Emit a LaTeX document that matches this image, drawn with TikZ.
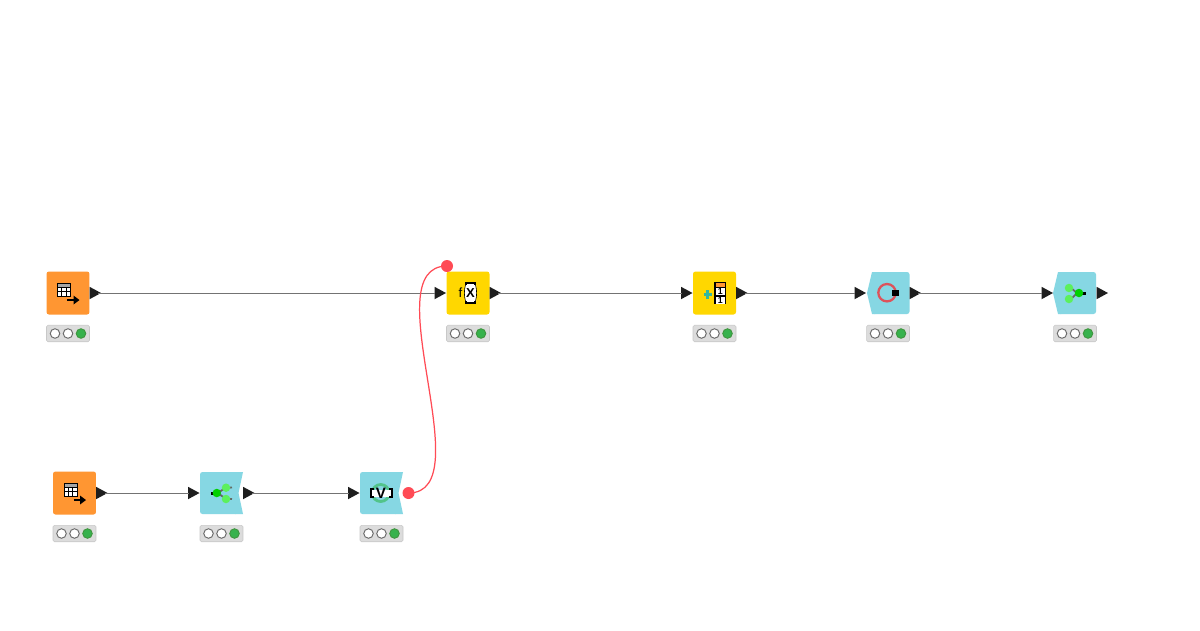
\documentclass[tikz,border=0pt]{standalone}
\usepackage{fontspec}
\setmainfont{Liberation Sans}
\usetikzlibrary{shapes.geometric}
\definecolor{kOrange}{HTML}{FF9632}
\definecolor{kYellow}{HTML}{FFD700}
\definecolor{kTeal}{HTML}{86D7E3}
\definecolor{kRed}{HTML}{FF4B55}
\definecolor{kGreen}{HTML}{37B24D}
\definecolor{kBar}{HTML}{DCDCDC}
\definecolor{kBarLine}{HTML}{C8C8C8}
\definecolor{kDark}{HTML}{1E1E1E}
\definecolor{kLime}{HTML}{5CF05C}
\definecolor{kLimeDark}{HTML}{00D000}
\definecolor{kLoopGreen}{HTML}{52C48A}
\definecolor{kPlus}{HTML}{35B8A0}
\tikzset{
  bodybox/.style={minimum width=.86cm,minimum height=.86cm,inner sep=0pt,outer sep=0pt,rounded corners=.05cm},
  bodymark/.style={minimum width=.86cm,minimum height=.86cm,inner sep=0pt,outer sep=0pt},
  porttri/.style={isosceles triangle,isosceles triangle stretches,fill=kDark,inner sep=0pt,outer sep=0pt,
    minimum width=.25cm,minimum height=.23cm,anchor=apex},
  barbox/.style={minimum width=.86cm,minimum height=.33cm,inner sep=0pt,fill=kBar,draw=kBarLine,line width=.3pt,rounded corners=.03cm},
  lampoff/.style={circle,inner sep=0pt,minimum size=.19cm,fill=white,draw=gray!85!black,line width=.55pt},
  lampon/.style={circle,inner sep=0pt,minimum size=.19cm,fill=kGreen,draw=green!45!black!75,line width=.55pt},
  wire/.style={draw=black!55,line width=.55pt,shorten <=-1.5pt,shorten >=-.5pt},
  varwire/.style={draw=kRed,line width=.7pt},
  varport/.style={circle,fill=kRed,inner sep=0pt,minimum size=.24cm},
  seed/.style={circle,fill=kLime,inner sep=0pt,minimum size=.17cm},
  seeddark/.style={circle,fill=kLimeDark,inner sep=0pt,minimum size=.17cm},
  stem/.style={draw=black!60,line width=1pt},
  glyph/.style={inner sep=0pt,text=black},
}
% status bar under a body
\newcommand{\kbar}[3]{%
  \node[barbox] (#1-bar) at (#2,#3+40.5) {};
  \node[lampoff] (#1-a) at (#2-13,#3+40.5) {};
  \node[lampoff] (#1-b) at (#2,#3+40.5) {};
  \node[lampon]  (#1-c) at (#2+13,#3+40.5) {};
}
\newcommand{\kin}[3]{\node[porttri] (#1-in) at (#2-22,#3) {};}
\newcommand{\kout}[3]{\node[porttri] (#1-out) at (#2+33,#3) {};}
% table-with-arrow icon
\newcommand{\kreader}[2]{%
  \begin{scope}[shift={(#1,#2)}]
    \fill[white] (-10.5,-10) rectangle (2.5,3);
    \fill[black!35] (-10.5,-10) rectangle (2.5,-6);
    \draw[black,line width=.5pt] (-10.5,-10) rectangle (2.5,3);
    \draw[black,line width=.4pt] (-10.5,-6) -- (2.5,-6) (-10.5,-1.5) -- (2.5,-1.5)
      (-6.2,-6) -- (-6.2,3) (-1.8,-6) -- (-1.8,3);
    \draw[black,line width=1.4pt] (-1,7) -- (7,7);
    \fill[black] (5.5,2.5) -- (11.5,7) -- (5.5,11.5) -- cycle;
  \end{scope}
}
\begin{document}
\begin{tikzpicture}[x=.02cm,y=-.02cm]
\useasboundingbox (0,0) rectangle (1200,630);
\fill[white] (0,0) rectangle (1200,630);

% --- bodies, top row
\node[bodybox,fill=kOrange] (tableA) at (68,293) {};
\node[bodybox,fill=kYellow] (mathf) at (468,293) {};
\node[bodybox,fill=kYellow] (counter) at (714.5,293) {};
% loop end (pointed left)
\fill[kTeal,rounded corners=.05cm] (872,272) -- (909.5,272) -- (909.5,314) -- (872,314) -- cycle;
\fill[kTeal] (875,272) -- (872,272) -- (867,293) -- (872,314) -- (875,314) -- cycle;
\node[bodymark] (loopend) at (888,293) {};
\fill[kTeal,rounded corners=.05cm] (1058,272) -- (1096,272) -- (1096,314) -- (1058,314) -- cycle;
\fill[kTeal] (1061,272) -- (1058,272) -- (1053,293) -- (1058,314) -- (1061,314) -- cycle;
\node[bodymark] (collect) at (1075,293) {};

% --- bodies, bottom row
\node[bodybox,fill=kOrange] (tableB) at (74.5,493) {};
\fill[kTeal,rounded corners=.05cm] (200,472) -- (238,472) -- (238,514) -- (200,514) -- cycle;
\fill[kTeal] (235,472) -- (243,472) -- (238.5,493) -- (243,514) -- (235,514) -- cycle;
\node[bodymark] (loopstart) at (221.5,493) {};
\fill[kTeal,rounded corners=.05cm] (360,472) -- (398,472) -- (398,514) -- (360,514) -- cycle;
\fill[kTeal] (395,472) -- (403,472) -- (398.5,493) -- (403,514) -- (395,514) -- cycle;
\node[bodymark] (varloop) at (381.5,493) {};

% --- ports
\kout{tableA}{68}{293}
\kin{mathf}{468}{293}\kout{mathf}{468}{293}
\kin{counter}{714.5}{293}\kout{counter}{714.5}{293}
\kin{loopend}{888}{293}\kout{loopend}{888}{293}
\kin{collect}{1075}{293}\kout{collect}{1075}{293}
\kout{tableB}{74.5}{493}
\kin{loopstart}{221.5}{493}\kout{loopstart}{221.5}{493}
\kin{varloop}{381.5}{493}
\node[varport] (varout) at (408.5,493) {};
\node[varport] (varin) at (447,266) {};

% --- status bars
\kbar{tableA}{68}{293}
\kbar{mathf}{468}{293}
\kbar{counter}{714.5}{293}
\kbar{loopend}{888}{293}
\kbar{collect}{1075}{293}
\kbar{tableB}{74.5}{493}
\kbar{loopstart}{221.5}{493}
\kbar{varloop}{381.5}{493}

% --- connectors
\draw[wire] (tableA-out.apex) -- (mathf-in.lower side);
\draw[wire] (mathf-out.apex) -- (counter-in.lower side);
\draw[wire] (counter-out.apex) -- (loopend-in.lower side);
\draw[wire] (loopend-out.apex) -- (collect-in.lower side);
\draw[wire] (tableB-out.apex) -- (loopstart-in.lower side);
\draw[wire] (loopstart-out.apex) -- (varloop-in.lower side);
\draw[varwire] (varout.center) .. controls (483,493) and (372,266) .. (varin.center);

% --- icons
\kreader{68}{293}
\kreader{74.5}{493}

% f(X)
\fill[white,rounded corners=.03cm] (465,283) rectangle (476,303);
\draw[black,line width=.7pt] (466,285) -- (466,283) -- (475,283) -- (475,285)
  (466,301) -- (466,303) -- (475,303) -- (475,301);
\draw[black,line width=.35pt] (465.5,285) .. controls (464,290) and (464,296) .. (465.5,301)
  (475.5,285) .. controls (477,290) and (477,296) .. (475.5,301);
\node[glyph,font=\fontsize{7.6}{8}\selectfont] (ftext) at (460.5,292.5) {f};
\node[glyph,font=\fontsize{7.4}{8}\selectfont\bfseries] (xtext) at (470.5,293) {X};

% counter icon
\draw[kPlus,line width=1.5pt] (703.5,294.5) -- (712,294.5) (707.7,290.2) -- (707.7,298.8);
\fill[white] (715,282) rectangle (725.5,304);
\fill[kOrange] (715,283) rectangle (725.5,287);
\draw[black,line width=.7pt] (715,282) -- (715,304) (725.5,282) -- (725.5,304) (715,282.3) -- (725.5,282.3)
  (715,287.3) -- (725.5,287.3) (715,296) -- (725.5,296);
\node[glyph,font=\fontsize{5}{5}\selectfont\bfseries] (oneA) at (720.3,291.7) {1};
\node[glyph,font=\fontsize{5}{5}\selectfont\bfseries] (oneB) at (720.3,300.5) {1};

% loop end ring
\draw[kRed!85!black!90,line width=1.3pt] (887,292.7) circle (8.7);
\fill[black] (892,289.5) rectangle (898.5,296);

% collect icon
\draw[stem] (1065,288) -- (1069,288) .. controls (1074,288) and (1074,293) .. (1079,293);
\draw[stem] (1065,299) -- (1069,299) .. controls (1074,299) and (1074,293) .. (1079,293);
\fill[black] (1082,291.5) rectangle (1085.5,294.5);
\node[seed] (colA) at (1069,288) {};
\node[seed] (colB) at (1069,299) {};
\node[seeddark] (colC) at (1079,293) {};

% loop start icon
\draw[stem] (216.5,493) .. controls (221,493) and (221,487.5) .. (232,487.5);
\draw[stem] (216.5,493) .. controls (221,493) and (221,499) .. (232,499);
\fill[black] (210.5,491.5) rectangle (214,494.5);
\node[seed] (spA) at (226,487.7) {};
\node[seed] (spB) at (226,499) {};
\node[seeddark] (spC) at (216.8,493) {};

% variable loop icon
\draw[kLoopGreen,line width=1.6pt] (380.7,493) circle (8.5);
\fill[white] (372,489.5) rectangle (391,496.5);
\draw[black,line width=1pt] (374,489) -- (371,489) -- (371,497) -- (374,497)
  (389,489) -- (392,489) -- (392,497) -- (389,497);
\node[glyph,font=\fontsize{8.6}{8}\selectfont\bfseries] (vtext) at (381,493) {V};
\end{tikzpicture}
\end{document}
